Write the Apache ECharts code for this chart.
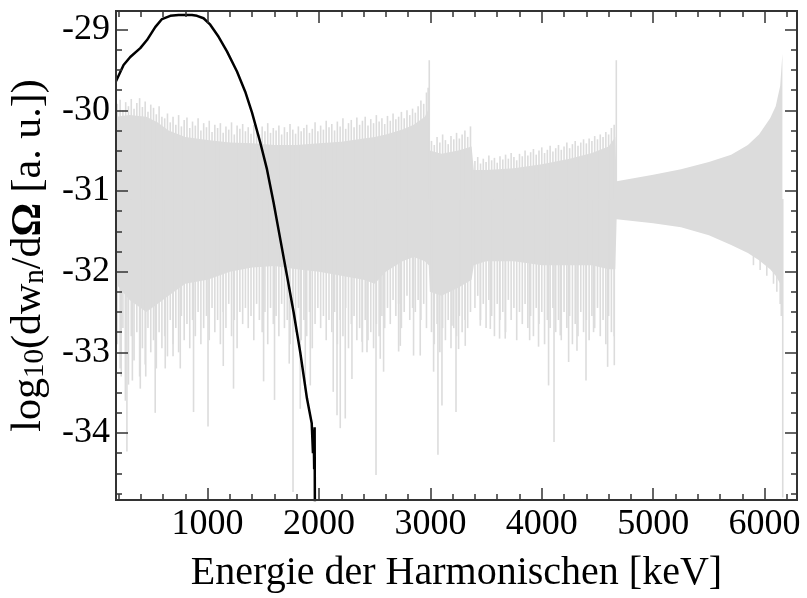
<!DOCTYPE html>
<html>
<head>
<meta charset="utf-8">
<script src="https://cdn.jsdelivr.net/npm/echarts@6/dist/echarts.min.js"></script>
<style>
  html, body { margin: 0; padding: 0; background: #fff; }
  #chart { width: 807px; height: 598px; }
</style>
</head>
<body>
<div id="chart"></div>
<script>
// Axis ranges and tick labels
const xRange = [178, 6291];
const yRange = [-34.83, -28.77];
const xMajorTicks = [1000, 2000, 3000, 4000, 5000, 6000];
const xMinorTicks = [200, 400, 600, 800, 1200, 1400, 1600, 1800, 2200, 2400, 2600, 2800,
  3200, 3400, 3600, 3800, 4200, 4400, 4600, 4800, 5200, 5400, 5600, 5800, 6200];
const yMajorTicks = [-34, -33, -32, -31, -30, -29];
const yMinorTicks = [-34.75, -34.5, -34.25, -33.75, -33.5, -33.25, -32.75, -32.5, -32.25,
  -31.75, -31.5, -31.25, -30.75, -30.5, -30.25, -29.75, -29.5, -29.25];

// Solid core of the dense harmonic spectrum (grey band)
const bandX = [178, 300, 450, 550, 650, 800, 1000, 1200, 1400, 1600, 1800, 2000, 2200, 2400,
  2500, 2600, 2750, 2850, 2950, 2985, 2995, 3100, 3250, 3370, 3390, 3500, 3750, 4000, 4250,
  4450, 4600, 4660, 4672, 5000, 5250, 5500, 5700, 5850, 5950, 6050, 6100, 6140, 6160];
const bandHi = [-30.08, -30.06, -30.08, -30.15, -30.25, -30.33, -30.37, -30.4, -30.41, -30.43,
  -30.43, -30.41, -30.39, -30.35, -30.33, -30.3, -30.24, -30.18, -30.08, -29.98, -30.5, -30.54,
  -30.5, -30.45, -30.74, -30.74, -30.72, -30.67, -30.6, -30.53, -30.45, -30.33, -30.88,
  -30.8, -30.73, -30.64, -30.55, -30.43, -30.3, -30.1, -29.95, -29.7, -29.3];
const bandLo = [-32.15, -32.35, -32.5, -32.4, -32.3, -32.15, -32.1, -32.0, -31.95, -31.93,
  -31.97, -32.0, -32.05, -32.1, -32.15, -32.0, -31.87, -31.82, -31.87, -31.92, -32.25, -32.3,
  -32.2, -32.1, -31.92, -31.87, -31.87, -31.92, -31.92, -31.92, -31.97, -31.97, -31.35,
  -31.4, -31.45, -31.55, -31.67, -31.77, -31.86, -31.97, -32.05, -32.15, -32.3];
const bandMid = -31.1;

// Harmonic peaks above the band, on a 25 keV grid per segment
const tipStep = 25;
const upStartA = 190;   // 190 .. 2965 keV
const upTipsA = [-29.92, -29.87, -30.0, -29.9, -29.95, -29.86, -29.98, -29.91, -29.85, -29.96,
  -29.89, -30.02, -29.93, -29.97, -30.05, -29.95, -30.08,
  -30.1, -30.04, -30.15, -30.08, -30.18, -30.06, -30.2, -30.12, -30.09, -30.22,
  -30.14, -30.19, -30.1, -30.25, -30.16, -30.21, -30.13, -30.27, -30.18, -30.22,
  -30.16, -30.28, -30.2, -30.24, -30.15, -30.3, -30.19, -30.23, -30.17, -30.26,
  -30.21, -30.29, -30.18, -30.24, -30.3, -30.2, -30.26, -30.16, -30.28, -30.22,
  -30.25, -30.19, -30.3, -30.21, -30.27, -30.17, -30.24, -30.29, -30.2, -30.26,
  -30.22, -30.18, -30.28, -30.23, -30.15, -30.26, -30.19, -30.24, -30.13, -30.21,
  -30.17, -30.25, -30.14, -30.2, -30.1, -30.23, -30.16, -30.12, -30.21, -30.09,
  -30.18, -30.13, -30.08, -30.19, -30.11, -30.16, -30.06, -30.14, -30.1, -30.17,
  -30.07, -30.13, -30.04, -30.11, -30.08, -30.02, -30.1, -30.0, -30.06, -29.98,
  -30.03, -29.95, -29.88, -29.92, -29.78];
const upStartB = 3010;  // 3010 .. 3360 keV
const upTipsB = [-30.38, -30.43, -30.33, -30.4, -30.3, -30.37, -30.42, -30.32, -30.36, -30.28,
  -30.35, -30.3, -30.25, -30.33, -30.2];
const upStartC = 3400;  // 3400 .. 4650 keV
const upTipsC = [-30.63, -30.58, -30.66, -30.6, -30.64, -30.56, -30.62, -30.59, -30.65, -30.57,
  -30.61, -30.55, -30.6, -30.53, -30.58, -30.62, -30.54, -30.57, -30.5, -30.56,
  -30.52, -30.48, -30.55, -30.5, -30.46, -30.53, -30.49, -30.44, -30.51, -30.47,
  -30.43, -30.49, -30.45, -30.4, -30.47, -30.42, -30.38, -30.44, -30.4, -30.36,
  -30.41, -30.35, -30.38, -30.32, -30.36, -30.3, -30.33, -30.27, -30.3, -30.22, -30.18];

// Harmonic minima below the band, same grid
const dnTipsA = [-32.9, -33.2, -32.7, -33.0, -33.4, -32.8, -33.1, -32.75, -33.3, -32.95,
  -33.15, -32.7, -33.0, -32.85, -33.2, -32.75, -32.95,
  -32.8, -33.05, -32.6, -32.9, -32.7, -33.0, -32.55, -32.85, -32.65, -32.95,
  -32.6, -32.8, -32.5, -32.9, -32.7, -32.55, -32.85, -32.45, -32.75, -32.6,
  -32.9, -32.5, -32.7, -32.4, -32.8, -32.6, -32.95, -32.5, -32.65, -32.45,
  -32.7, -32.55, -32.85, -32.4, -32.6, -32.75, -32.5, -32.9, -32.45, -32.65,
  -32.55, -32.8, -32.4, -32.7, -32.6, -32.9, -32.5, -32.75, -32.45, -32.85,
  -32.6, -32.8, -32.5, -32.95, -32.65, -32.45, -32.7, -32.55, -32.85, -32.6,
  -32.75, -32.5, -32.9, -32.6, -32.8, -32.45, -32.95, -32.65, -32.55, -32.85,
  -32.7, -33.0, -32.6, -32.85, -32.75, -32.95, -32.65, -32.8, -32.55, -32.7,
  -32.45, -32.65, -32.35, -32.55, -32.4, -32.7, -32.5, -32.3, -32.6, -32.45,
  -32.5, -32.35, -32.6, -32.4, -32.7];
const dnTipsB = [-32.75, -32.9, -32.65, -33.0, -32.7, -32.85, -32.6, -32.95, -32.7, -32.8,
  -32.55, -32.75, -32.6, -32.7, -32.5];
const dnTipsC = [-32.45, -32.3, -32.6, -32.4, -32.7, -32.35, -32.55, -32.8, -32.4, -32.6,
  -32.5, -32.75, -32.35, -32.6, -32.45, -32.85, -32.5, -32.65, -32.4, -32.7,
  -32.55, -32.8, -32.45, -32.65, -32.5, -32.9, -32.6, -32.7, -32.45, -32.75,
  -32.6, -32.85, -32.5, -32.7, -32.55, -32.9, -32.65, -32.8, -32.5, -32.75,
  -32.6, -32.85, -32.55, -32.7, -32.45, -32.8, -32.6, -32.9, -32.55, -32.75, -32.8];

// Isolated strong peaks and deep minima
const spikeX = [262, 276, 225, 325, 396, 445, 530, 620, 690, 755, 874, 1004, 1141, 1233, 1503,
  1601, 1733, 1767, 1832, 1877, 1922, 2128, 2162, 2191, 2236, 2296, 2386, 2431, 2512, 2550,
  2580, 2715, 2730, 2849, 2909, 2980, 2990, 3029, 3068, 3104, 3194, 3230, 3253, 3313, 3448,
  3538, 3621, 3672, 3891, 3971, 4061, 4110, 4166, 4241, 4316, 4397, 4465, 4591, 4651, 4669,
  5900, 5960, 6020, 6080, 6110, 6140, 6150, 6163];
const spikeY = [-33.6, -34.23, -33.3, -33.35, -33.45, -33.3, -33.75, -33.2, -33.05, -33.2,
  -33.74, -33.92, -33.17, -33.45, -33.36, -33.59, -33.14, -34.73, -33.7, -33.45, -33.41,
  -33.49, -33.78, -33.94, -33.82, -33.33, -32.87, -33.0, -34.52, -33.08, -33.24, -32.99,
  -32.92, -33.04, -33.04, -29.72, -29.38, -33.24, -34.27, -33.66, -32.67, -33.74, -32.96,
  -32.92, -32.67, -32.71, -32.83, -32.83, -32.85, -32.93, -33.41, -34.11, -32.79, -33.12,
  -32.98, -33.35, -32.75, -33.18, -33.16, -29.38,
  -31.92, -31.98, -32.05, -32.15, -32.25, -32.4, -32.55, -34.8];

// Main emission line
const lineX = [178, 246, 306, 396, 456, 530, 591, 665, 740, 800, 860, 905, 964, 1024, 1099,
  1174, 1264, 1338, 1399, 1473, 1533, 1592, 1653, 1713, 1772, 1832, 1892, 1935, 1946, 1952,
  1957, 1961, 1964];
const lineY = [-29.64, -29.44, -29.34, -29.23, -29.13, -28.97, -28.87, -28.83, -28.82, -28.82,
  -28.82, -28.83, -28.86, -28.94, -29.09, -29.27, -29.52, -29.77, -30.03, -30.40, -30.73,
  -31.14, -31.60, -32.05, -32.50, -33.00, -33.57, -33.88, -34.25, -33.96, -34.45, -33.93, -35.2];

const FONT = '"Liberation Serif", "DejaVu Serif", serif';
const AXIS_COLOR = '#333';
const GREY = '#dcdcdc';

function zip(a, b) { return a.map((v, i) => [v, b[i]]); }
function onGrid(start, tips) { return tips.map((v, i) => [start + i * tipStep, v]); }

const tipData = [].concat(
  onGrid(upStartA, upTipsA), onGrid(upStartB, upTipsB), onGrid(upStartC, upTipsC),
  onGrid(upStartA, dnTipsA), onGrid(upStartB, dnTipsB), onGrid(upStartC, dnTipsC),
  zip(spikeX, spikeY)
);

function frame(dim, position, range, ticks, len, withLabels) {
  return {
    type: 'value', position: position, min: range[0], max: range[1], z: 10,
    axisLine: { show: true, onZero: false, lineStyle: { color: AXIS_COLOR, width: 2 } },
    axisTick: { show: true, inside: true, length: len, customValues: ticks,
      lineStyle: { color: AXIS_COLOR, width: 1.5 } },
    axisLabel: withLabels ? {
      show: true, customValues: ticks, color: '#000', fontFamily: FONT, fontSize: 36,
      margin: dim === 'x' ? 7 : 6, formatter: function (v) { return String(v); }
    } : { show: false },
    splitLine: { show: false }
  };
}

const xAxes = [
  frame('x', 'bottom', xRange, xMajorTicks, 12, true),
  frame('x', 'bottom', xRange, xMinorTicks, 6, false),
  frame('x', 'top', xRange, xMajorTicks, 12, false),
  frame('x', 'top', xRange, xMinorTicks, 6, false)
];
Object.assign(xAxes[0], {
  name: 'Energie der Harmonischen [keV]', nameLocation: 'middle', nameGap: 53,
  nameTextStyle: { fontFamily: FONT, fontSize: 40, color: '#000' }
});

const yAxes = [
  frame('y', 'left', yRange, yMajorTicks, 12, true),
  frame('y', 'left', yRange, yMinorTicks, 6, false),
  frame('y', 'right', yRange, yMajorTicks, 12, false),
  frame('y', 'right', yRange, yMinorTicks, 6, false)
];
Object.assign(yAxes[0], {
  name: 'log{sub|10}(dw{sub|n}/d{b|Ω} [a. u.])', nameLocation: 'middle', nameGap: 66,
  nameTextStyle: {
    fontFamily: FONT, fontSize: 42, color: '#000',
    rich: {
      sub: { fontFamily: FONT, fontSize: 29, color: '#000', padding: [13, 0, 0, 0] },
      b: { fontFamily: FONT, fontSize: 42, fontWeight: 'bold', color: '#000' }
    }
  }
});

const chart = echarts.init(document.getElementById('chart'), null, { renderer: 'canvas' });
chart.setOption({
  animation: false,
  backgroundColor: '#fff',
  grid: { left: 115, right: 10, top: 11, bottom: 97, containLabel: false },
  xAxis: xAxes,
  yAxis: yAxes,
  series: [
    {
      name: 'band', type: 'custom', clip: true, silent: true,
      data: [[bandX[0], bandHi[0]]],
      renderItem: function (params, api) {
        const pts = [];
        for (let i = 0; i < bandX.length; i++) pts.push(api.coord([bandX[i], bandHi[i]]));
        for (let i = bandX.length - 1; i >= 0; i--) pts.push(api.coord([bandX[i], bandLo[i]]));
        return { type: 'polygon', shape: { points: pts }, style: { fill: GREY } };
      },
      z: 2
    },
    {
      name: 'harmonics', type: 'custom', clip: true, silent: true,
      data: tipData,
      renderItem: function (params, api) {
        const a = api.coord([api.value(0), api.value(1)]);
        const b = api.coord([api.value(0), bandMid]);
        return { type: 'line', shape: { x1: a[0], y1: a[1], x2: a[0], y2: b[1] },
          style: { stroke: GREY, lineWidth: 1.6 } };
      },
      z: 3
    },
    {
      name: 'line', type: 'line', data: zip(lineX, lineY), showSymbol: false, symbol: 'none',
      clip: true, lineStyle: { color: '#000', width: 2.5 }, z: 5
    }
  ]
});
</script>
</body>
</html>
